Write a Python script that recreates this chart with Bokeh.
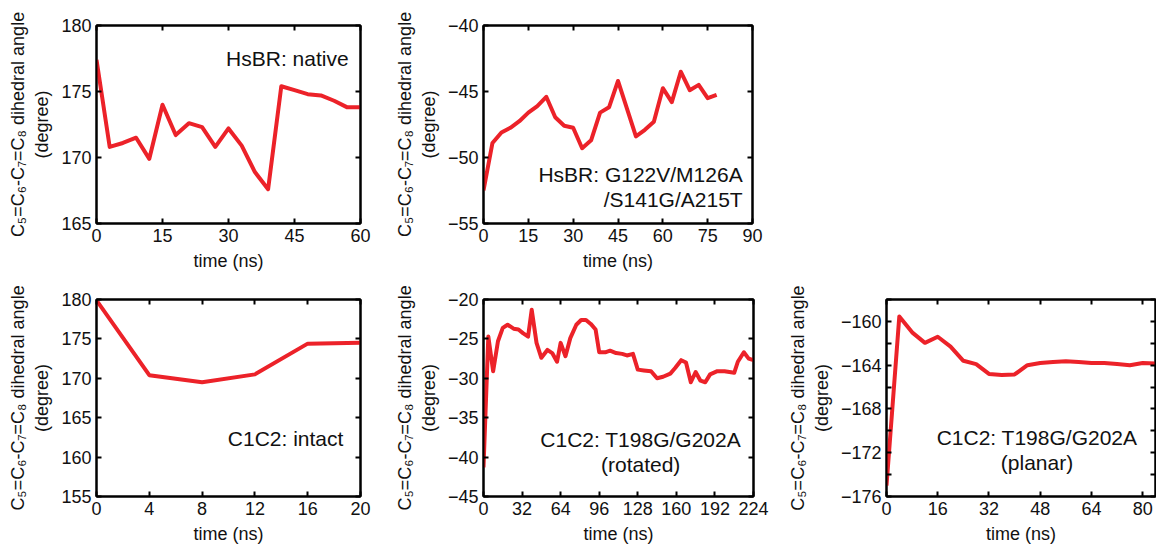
from bokeh.plotting import figure
from bokeh.models import Range1d, FixedTicker, LinearAxis, Label
from bokeh.layouts import column, row
from bokeh.embed import file_html
from bokeh.resources import INLINE

FONT = "Liberation Sans"
RED = "#ec2229"
YLABEL = "C\u2085=C\u2086-C\u2087=C\u2088 dihedral angle\n(degree)"
XLABEL = "time (ns)"

# ---- data ----
hs_native_t = [0, 3, 6, 9, 12, 15, 18, 21, 24, 27, 30, 33, 36, 39, 42, 45, 48, 51, 54, 57, 60]
hs_native_a = [177.4, 170.8, 171.1, 171.5, 169.9, 174.0, 171.7, 172.6, 172.3, 170.8, 172.2,
               170.9, 168.9, 167.6, 175.4, 175.1, 174.8, 174.7, 174.3, 173.8, 173.8]

hs_mut_t = [0, 3, 6, 9, 12, 15, 18, 21, 24, 27, 30, 33, 36, 39, 42, 45, 48, 51, 54, 57,
            60, 63, 66, 69, 72, 75, 78]
hs_mut_a = [-52.5, -48.9, -48.1, -47.75, -47.25, -46.6, -46.1, -45.4, -46.95, -47.6, -47.75,
            -49.3, -48.7, -46.6, -46.2, -44.2, -46.3, -48.4, -47.9, -47.3, -44.75, -45.8,
            -43.5, -44.9, -44.5, -45.5, -45.25]

c1c2_intact_t = [0, 4, 8, 12, 16, 20]
c1c2_intact_a = [179.9, 170.4, 169.5, 170.5, 174.4, 174.5]

c1c2_rot_t = [0, 4, 8, 12, 16, 20, 25, 29, 33, 37, 40, 44, 48, 53, 57, 61, 64, 68, 72, 77,
              81, 85, 89, 93, 96, 101, 105, 110, 115, 119, 124, 128, 133, 139, 144, 149,
              155, 159, 164, 168, 172, 176, 180, 184, 188, 194, 200, 208, 211, 216, 220, 224]
c1c2_rot_a = [-41.3, -24.7, -29.1, -25.3, -23.6, -23.2, -23.7, -23.8, -24.3, -24.7,
              -21.3, -25.5, -27.4, -26.4, -26.8, -27.9, -25.5, -27.2, -24.9, -23.2,
              -22.6, -22.6, -23.1, -23.8, -26.7, -26.7, -26.5, -26.8, -26.9, -27.1,
              -26.9, -28.9, -29.0, -29.1, -30.0, -29.8, -29.4, -28.7, -27.7, -28.0,
              -30.5, -29.2, -30.3, -30.5, -29.5, -29.1, -29.1, -29.3, -27.9, -26.7,
              -27.5, -27.7]

c1c2_pla_t = [0, 4, 8, 12, 16, 20, 24, 28, 32, 36, 40, 44, 48, 52, 56, 60, 64, 68, 72, 76, 80, 84]
c1c2_pla_a = [-175.0, -159.55, -161.0, -161.96, -161.4, -162.3, -163.6, -163.9, -164.8,
              -164.9, -164.85, -164.0, -163.8, -163.7, -163.65, -163.7, -163.8, -163.8,
              -163.9, -164.0, -163.8, -163.85]

# tick labels
ticks_x1 = [0, 15, 30, 45, 60]
ticks_y1 = [165, 170, 175, 180]
ticks_x2 = [0, 15, 30, 45, 60, 75, 90]
ticks_y2 = [-55, -50, -45, -40]
ticks_x3 = [0, 4, 8, 12, 16, 20]
ticks_y3 = [155, 160, 165, 170, 175, 180]
ticks_x4 = [0, 32, 64, 96, 128, 160, 192, 224]
ticks_y4 = [-45, -40, -35, -30, -25, -20]
ticks_x5 = [0, 16, 32, 48, 64, 80]
ticks_y5 = [-176, -172, -168, -164, -160]
minor_y5 = [-174, -170, -166, -162, -158]


def style_axis(ax, ticks, minor=None, labels=True):
    ax.ticker = FixedTicker(ticks=ticks, minor_ticks=minor or [])
    ax.major_tick_in = 5
    ax.major_tick_out = 0
    ax.minor_tick_in = 5 if minor else 0
    ax.minor_tick_out = 0
    ax.major_tick_line_width = 2
    ax.minor_tick_line_width = 2
    ax.major_tick_line_color = "black"
    ax.minor_tick_line_color = "black"
    ax.axis_line_width = 2
    ax.axis_line_color = "black"
    ax.major_label_text_font = FONT
    if labels:
        ax.major_label_text_color = "#111111"
        ax.major_label_text_font_size = "18px"
        ax.major_label_standoff = 5
    else:
        ax.major_label_text_color = None
        ax.major_label_text_font_size = "1px"
        ax.major_label_standoff = 0
    ax.axis_label_text_font = FONT
    ax.axis_label_text_font_size = "18px"
    ax.axis_label_text_font_style = "normal"
    ax.axis_label_text_color = "#111111"
    ax.axis_label_standoff = 6


def make_fig(w, h, left, right, top, bottom, xr, yr, xt, yt, t, a, yminor=None):
    p = figure(width=w, height=h, output_backend="svg", toolbar_location=None,
               x_range=Range1d(*xr), y_range=Range1d(*yr),
               min_border_left=left, min_border_right=right,
               min_border_top=top, min_border_bottom=bottom,
               x_axis_label=XLABEL, y_axis_label=YLABEL)
    p.xgrid.visible = False
    p.ygrid.visible = False
    p.outline_line_color = "black"
    p.outline_line_width = 2
    p.background_fill_color = "white"
    p.border_fill_color = "white"
    style_axis(p.xaxis[0], xt)
    style_axis(p.yaxis[0], yt, yminor)
    ax_top = LinearAxis()
    style_axis(ax_top, xt, labels=False)
    p.add_layout(ax_top, "above")
    ax_right = LinearAxis()
    style_axis(ax_right, yt, yminor, labels=False)
    p.add_layout(ax_right, "right")
    p.line(t, a, line_color=RED, line_width=4, line_join="round")
    return p


def add_text(p, x, y, txt, align):
    p.add_layout(Label(x=x, y=y, text=txt, text_align=align, text_baseline="middle",
                       text_font=FONT, text_font_size="21px", text_color="#111111"))


pA = make_fig(391, 275, 96, 31, 25, 52, (0, 60), (165, 180), ticks_x1, ticks_y1,
              hs_native_t, hs_native_a)
add_text(pA, 57.3, 177.5, "HsBR: native", "right")

pB = make_fig(381, 275, 88, 20, 25, 52, (0, 90), (-55, -40), ticks_x2, ticks_y2,
              hs_mut_t, hs_mut_a)
add_text(pB, 86.7, -51.3, "HsBR: G122V/M126A", "right")
add_text(pB, 86.7, -53.2, "/S141G/A215T", "right")

pC = make_fig(391, 271, 96, 31, 24, 50, (0, 20), (155, 180), ticks_x3, ticks_y3,
              c1c2_intact_t, c1c2_intact_a)
add_text(pC, 18.7, 162.4, "C1C2: intact", "right")

pD = make_fig(393, 271, 88, 31, 24, 50, (0, 224), (-45, -20), ticks_x4, ticks_y4,
              c1c2_rot_t, c1c2_rot_a)
add_text(pD, 130.4, -37.8, "C1C2: T198G/G202A", "center")
add_text(pD, 130.4, -40.9, "(rotated)", "center")

pE = make_fig(372, 271, 100, 1, 24, 50, (0, 84), (-176, -158), ticks_x5, ticks_y5,
              c1c2_pla_t, c1c2_pla_a, yminor=minor_y5)
add_text(pE, 47, -170.65, "C1C2: T198G/G202A", "center")
add_text(pE, 47, -172.9, "(planar)", "center")

layout = column(row(pA, pB), row(pC, pD, pE))

open("out.html", "w").write(file_html(layout, INLINE))
